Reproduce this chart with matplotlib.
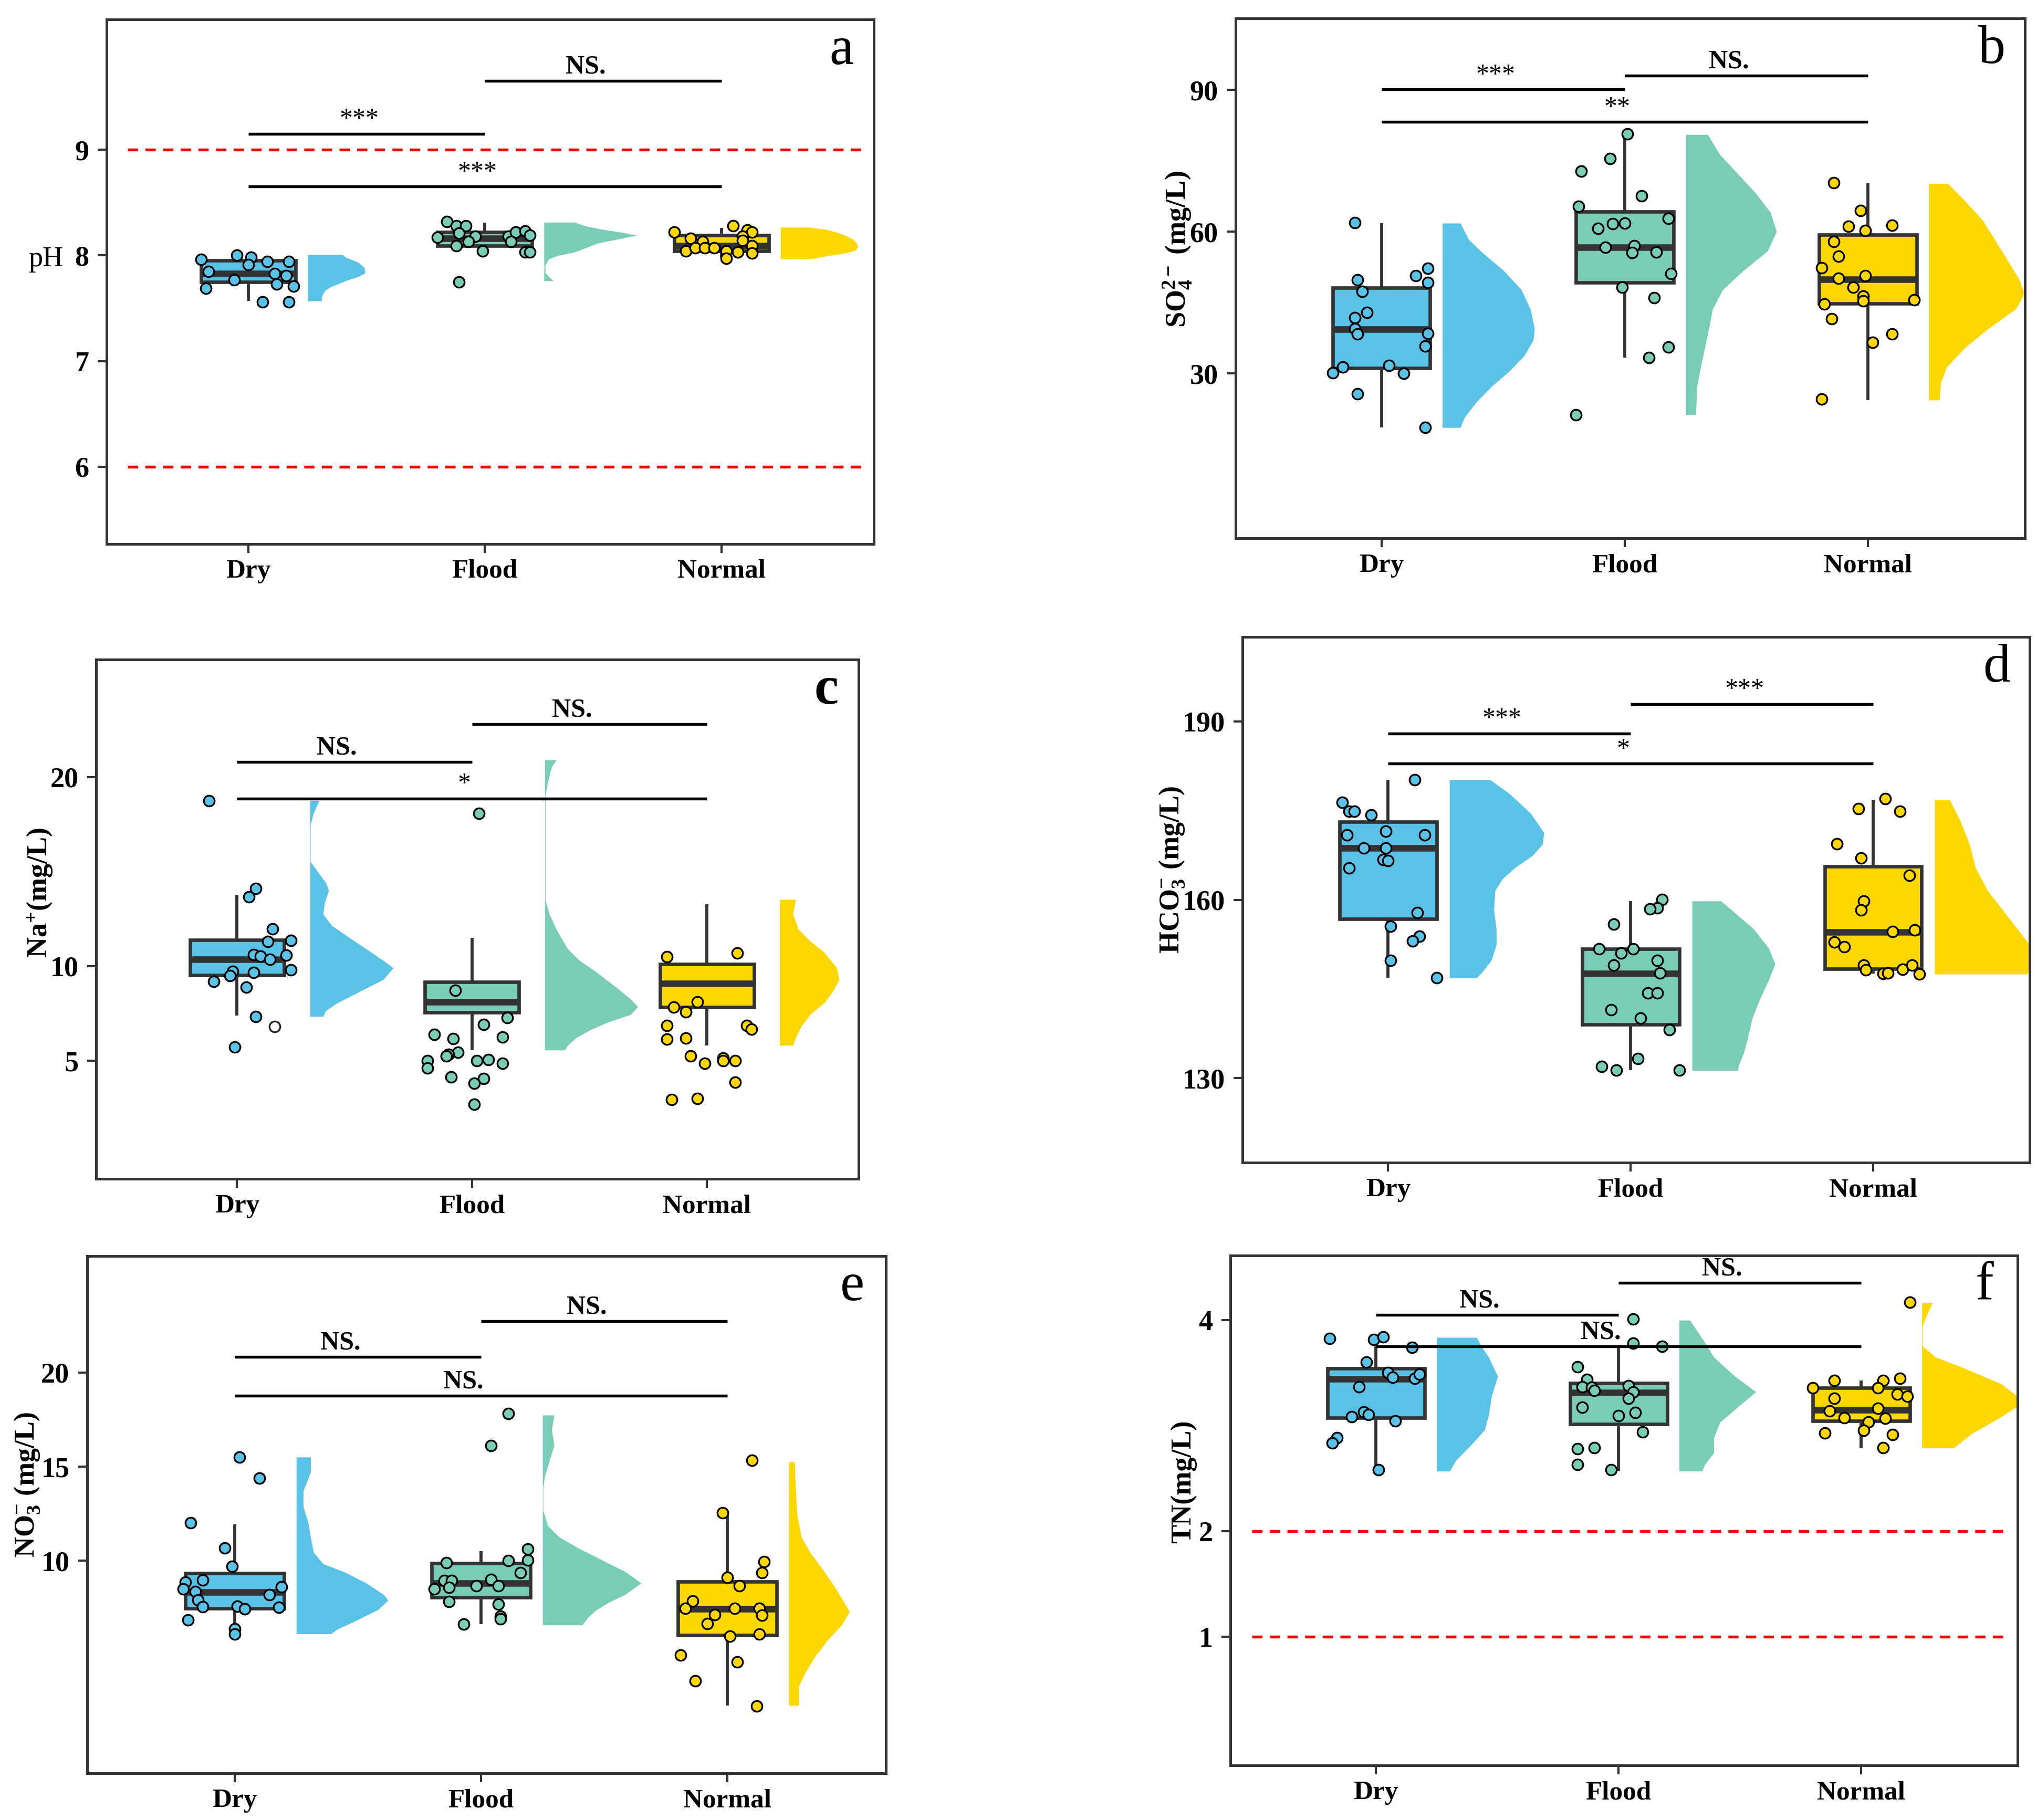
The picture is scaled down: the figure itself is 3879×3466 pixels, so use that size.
import numpy as np
import matplotlib
matplotlib.use("Agg")
import matplotlib.pyplot as plt
from matplotlib.patches import Rectangle

plt.rcParams['font.family'] = ['Liberation Serif', 'DejaVu Serif']
plt.rcParams['mathtext.fontset'] = 'custom'
plt.rcParams['mathtext.rm'] = 'Liberation Serif:bold'
plt.rcParams['mathtext.bf'] = 'Liberation Serif:bold'
plt.rcParams['mathtext.it'] = 'Liberation Serif:bold:italic'
plt.rcParams['mathtext.default'] = 'rm'

categories = ['Dry', 'Flood', 'Normal']
colors = ['#5BC2E7', '#79CDB6', '#FFD700']

# ---------------- panel a : pH ----------------
ph_dry = [7.96, 8.00, 7.98, 7.91, 7.94, 7.94, 7.85, 7.69, 7.77, 7.83, 7.73, 7.81, 7.71, 7.56, 7.56]
ph_dry_jit = [-0.20, -0.05, 0.01, 0.00, 0.08, 0.17, -0.17, -0.18, -0.06, 0.11, 0.12, 0.16, 0.19, 0.06, 0.17]
ph_flood = [8.32, 8.28, 8.28, 8.21, 8.17, 8.18, 8.13, 8.09, 8.04, 8.18, 8.22, 8.23, 8.19, 8.13, 8.03, 8.03, 7.75]
ph_flood_jit = [-0.16, -0.12, -0.08, -0.11, -0.20, -0.04, -0.07, -0.12, -0.01, 0.10, 0.13, 0.17, 0.19, 0.11, 0.17, 0.19, -0.11]
ph_normal = [8.22, 8.16, 8.13, 8.04, 8.07, 8.07, 8.07, 8.04, 7.97, 8.28, 8.24, 8.22, 8.18, 8.14, 8.09, 8.02, 8.03]
ph_normal_jit = [-0.20, -0.13, -0.08, -0.15, -0.11, -0.07, -0.03, 0.02, 0.02, 0.05, 0.11, 0.13, 0.09, 0.09, 0.13, 0.13, 0.07]
ph_box = [[7.57, 7.75, 7.83, 7.95, 7.95], [8.08, 8.09, 8.16, 8.22, 8.31], [7.98, 8.04, 8.09, 8.19, 8.26]]
ph_dry_vy = [8.007, 7.983, 7.933, 7.883, 7.834, 7.80, 7.767, 7.734, 7.70, 7.668, 7.618, 7.569]
ph_dry_vw = [0.148, 0.16, 0.216, 0.24, 0.244, 0.216, 0.17, 0.133, 0.096, 0.074, 0.061, 0.059]
ph_flood_vy = [8.314, 8.281, 8.247, 8.215, 8.19, 8.165, 8.14, 8.115, 8.082, 8.032, 7.999, 7.966, 7.90, 7.834, 7.80, 7.759]
ph_flood_vw = [0.129, 0.170, 0.244, 0.336, 0.392, 0.336, 0.281, 0.226, 0.189, 0.13, 0.06, 0.02, 0.004, 0.006, 0.02, 0.04]
ph_normal_vy = [8.267, 8.247, 8.215, 8.181, 8.148, 8.115, 8.082, 8.049, 8.024, 7.999, 7.969]
ph_normal_vw = [0.115, 0.189, 0.244, 0.281, 0.309, 0.322, 0.327, 0.318, 0.281, 0.207, 0.133]
ph_sig = [(1, 2, 9.15, '***'), (2, 3, 9.652, 'NS.'), (1, 3, 8.652, '***')]
ph_ref_lines = [9, 6]

# ---------------- panel b : SO4 ----------------
so4_dry = [61.96, 49.86, 47.40, 42.98, 41.83, 39.46, 38.39, 52.23, 50.67, 49.28, 38.47, 35.77, 31.68, 31.43, 30.20, 30.04, 25.7, 18.58]
so4_dry_jit = [-0.11, -0.10, -0.08, -0.06, -0.11, -0.11, -0.10, 0.19, 0.14, 0.19, 0.19, 0.18, 0.03, -0.16, -0.20, 0.09, -0.10, 0.18]
so4_flood = [80.7, 75.47, 72.77, 67.53, 65.40, 62.78, 60.65, 61.64, 61.80, 56.73, 57.05, 55.58, 55.74, 51.16, 48.22, 46.09, 35.61, 33.40, 21.29]
so4_flood_jit = [0.01, -0.06, -0.18, 0.07, -0.19, 0.18, -0.11, -0.05, 0.00, -0.08, 0.04, 0.03, 0.13, 0.19, -0.01, 0.12, 0.18, 0.10, -0.20]
so4_normal = [70.39, 64.5, 61.15, 60.25, 61.39, 57.95, 54.84, 52.31, 50.10, 50.67, 48.22, 46.33, 45.35, 44.70, 45.60, 41.59, 38.39, 36.60, 24.57]
so4_normal_jit = [-0.14, -0.03, -0.08, -0.01, 0.10, -0.14, -0.12, -0.19, -0.12, -0.01, -0.06, -0.02, -0.02, -0.18, 0.19, -0.15, 0.10, 0.02, -0.19]
so4_box = [[18.6, 31.2, 39.4, 48.2, 61.8], [33.4, 49.3, 56.7, 64.2, 80.7], [24.4, 44.8, 49.9, 59.4, 70.2]]
so4_dry_vy = [61.80, 58.36, 55.91, 51.82, 47.73, 43.63, 39.54, 37.09, 33.81, 30.54, 27.27, 24.0, 20.72, 18.59]
so4_dry_vw = [0.074, 0.108, 0.157, 0.251, 0.325, 0.362, 0.379, 0.374, 0.337, 0.276, 0.202, 0.140, 0.091, 0.074]
so4_flood_vy = [80.54, 76.37, 72.27, 68.18, 64.09, 60.0, 55.91, 51.82, 47.73, 43.63, 39.54, 35.45, 31.36, 27.27, 21.29]
so4_flood_vw = [0.091, 0.140, 0.214, 0.288, 0.349, 0.374, 0.337, 0.239, 0.153, 0.111, 0.096, 0.079, 0.062, 0.047, 0.042]
so4_normal_vy = [70.15, 66.55, 62.45, 58.36, 54.27, 50.18, 46.91, 43.63, 39.54, 35.45, 31.36, 28.09, 24.41]
so4_normal_vw = [0.079, 0.148, 0.221, 0.271, 0.320, 0.369, 0.394, 0.357, 0.246, 0.148, 0.074, 0.049, 0.044]
so4_sig = [(1, 2, 90.1, '***'), (2, 3, 92.95, 'NS.'), (1, 3, 83.2, '**')]

# ---------------- panel c : Na+ ----------------
na_dry = [18.75, 14.09, 13.66, 11.98, 11.31, 11.35, 10.61, 10.53, 10.35, 10.59, 9.73, 9.65, 9.80, 9.18, 9.51, 8.88, 7.34, 5.73]
na_dry_jit = [-0.12, 0.08, 0.05, 0.15, 0.13, 0.23, 0.07, 0.10, 0.14, 0.21, -0.02, 0.07, 0.23, -0.10, -0.03, 0.04, 0.08, -0.01]
na_dry_open = [6.81]
na_dry_open_jit = [0.16]
na_flood = [18.08, 8.71, 7.28, 6.91, 6.38, 6.16, 6.26, 5.44, 5.34, 5.26, 4.99, 5.01, 5.07, 4.87, 4.62, 4.13, 4.07, 3.82, 2.70]
na_flood_jit = [0.03, -0.07, 0.15, 0.05, -0.16, -0.08, 0.13, -0.06, -0.10, -0.11, -0.19, 0.02, 0.07, 0.13, -0.19, -0.09, 0.05, 0.01, 0.01]
na_normal = [10.49, 10.70, 8.12, 7.83, 7.59, 6.85, 6.87, 6.67, 6.13, 6.20, 5.26, 4.87, 5.13, 4.99, 4.99, 3.87, 2.94, 3.01]
na_normal_jit = [-0.17, 0.13, -0.04, -0.14, -0.09, -0.17, 0.17, 0.19, -0.17, -0.09, -0.07, -0.01, 0.07, 0.07, 0.12, 0.12, -0.15, -0.04]
na_box = [[7.40, 9.53, 10.37, 11.37, 13.74], [5.56, 7.55, 8.10, 9.16, 11.49], [5.81, 7.83, 9.08, 10.12, 13.27]]
na_dry_vy = [18.75, 18.08, 17.46, 15.52, 15.01, 14.40, 13.99, 13.37, 12.76, 12.15, 11.53, 10.92, 10.31, 9.90, 9.28, 8.67, 8.06, 7.65, 7.34]
na_dry_vw = [0.039, 0.015, 0.002, 0.002, 0.032, 0.068, 0.080, 0.063, 0.056, 0.092, 0.165, 0.238, 0.311, 0.355, 0.311, 0.214, 0.117, 0.068, 0.056]
na_flood_vy = [20.90, 20.53, 19.71, 19.0, 13.48, 12.76, 11.94, 10.92, 10.31, 9.69, 8.88, 8.26, 7.85, 7.44, 7.03, 6.63, 6.22, 5.81, 5.56]
na_flood_vw = [0.049, 0.029, 0.012, 0.002, 0.002, 0.019, 0.049, 0.097, 0.146, 0.219, 0.304, 0.365, 0.396, 0.365, 0.267, 0.194, 0.134, 0.097, 0.085]
na_normal_vy = [13.52, 12.76, 11.94, 11.33, 10.72, 9.90, 9.28, 8.67, 8.06, 7.44, 6.83, 6.22, 5.81]
na_normal_vw = [0.068, 0.056, 0.080, 0.129, 0.190, 0.243, 0.253, 0.226, 0.190, 0.129, 0.092, 0.068, 0.056]
na_sig = [(1, 2, 20.8, 'NS.'), (2, 3, 22.8, 'NS.'), (1, 3, 18.85, '*')]

# ---------------- panel d : HCO3- ----------------
hco3_dry = [180.23, 176.40, 174.90, 174.90, 174.25, 171.52, 170.93, 170.93, 168.72, 168.72, 166.77, 166.57, 165.34, 157.85, 155.58, 153.88, 153.04, 149.85, 146.86]
hco3_dry_jit = [0.11, -0.19, -0.16, -0.14, -0.07, -0.01, -0.17, 0.15, -0.10, -0.01, -0.02, 0.00, -0.16, 0.12, 0.01, 0.13, 0.10, 0.01, 0.20]
hco3_flood = [160.07, 158.63, 158.44, 155.90, 151.74, 151.74, 151.02, 149.0, 149.85, 147.70, 144.32, 144.32, 141.52, 140.09, 138.14, 133.26, 131.96, 131.31, 131.31]
hco3_flood_jit = [0.13, 0.11, 0.08, -0.07, -0.13, 0.01, -0.04, -0.07, 0.11, 0.12, 0.07, 0.11, -0.08, 0.04, 0.16, 0.03, -0.12, -0.06, 0.20]
hco3_normal = [177.05, 175.35, 174.90, 169.37, 167.03, 164.10, 159.80, 158.31, 154.66, 154.93, 152.91, 152.13, 149.0, 148.22, 148.35, 149.0, 147.57, 147.70, 147.51]
hco3_normal_jit = [0.05, -0.06, 0.11, -0.15, -0.05, 0.15, -0.04, -0.05, 0.08, 0.17, -0.16, -0.12, -0.04, -0.03, 0.12, 0.16, 0.04, 0.06, 0.19]
hco3_box = [[146.86, 156.81, 168.72, 173.08, 180.17], [131.31, 139.05, 147.64, 151.74, 159.80], [147.57, 148.42, 154.60, 165.60, 176.79]]
hco3_dry_vy = [180.17, 177.83, 174.57, 171.32, 169.37, 167.42, 165.47, 163.51, 161.56, 158.31, 155.06, 152.45, 149.85, 147.90, 146.86]
hco3_dry_vw = [0.168, 0.248, 0.334, 0.389, 0.384, 0.342, 0.272, 0.218, 0.188, 0.183, 0.193, 0.193, 0.173, 0.136, 0.111]
hco3_flood_vy = [159.80, 157.66, 155.06, 151.80, 149.20, 146.60, 143.34, 140.09, 136.84, 134.24, 132.28, 131.31]
hco3_flood_vw = [0.119, 0.181, 0.255, 0.317, 0.342, 0.317, 0.280, 0.248, 0.230, 0.213, 0.193, 0.188]
hco3_normal_vy = [176.79, 173.27, 169.37, 165.47, 161.56, 158.31, 155.06, 152.45, 150.50, 148.55, 147.51]
hco3_normal_vw = [0.062, 0.106, 0.144, 0.168, 0.218, 0.280, 0.342, 0.391, 0.42, 0.40, 0.38]
hco3_sig = [(1, 2, 188.0, '***'), (2, 3, 192.9, '***'), (1, 3, 182.9, '*')]

# ---------------- panel e : NO3- ----------------
no3_dry = [15.51, 14.39, 12.03, 10.69, 9.70, 8.98, 8.86, 8.62, 8.52, 8.37, 8.19, 7.91, 7.56, 7.58, 7.46, 7.54, 6.87, 6.38, 6.12]
no3_dry_jit = [0.02, 0.10, -0.18, -0.04, -0.01, -0.13, -0.20, 0.19, -0.21, -0.16, 0.14, -0.15, -0.13, 0.01, 0.04, 0.18, -0.19, 0.00, 0.00]
no3_flood = [17.83, 16.12, 10.63, 10.02, 10.04, 9.90, 9.37, 9.02, 8.94, 8.96, 8.66, 8.66, 8.52, 8.58, 7.85, 7.70, 7.07, 6.93, 6.65]
no3_flood_jit = [0.11, 0.04, 0.19, 0.11, 0.19, -0.14, 0.16, 0.04, -0.15, -0.12, -0.02, 0.07, -0.19, -0.13, -0.13, 0.07, 0.08, 0.08, -0.07]
no3_normal = [15.33, 12.56, 9.96, 9.37, 9.11, 8.66, 7.87, 7.48, 7.48, 7.48, 7.13, 7.11, 6.67, 6.12, 6.00, 5.00, 4.63, 3.62, 2.30]
no3_normal_jit = [0.10, -0.02, 0.15, 0.14, 0.00, 0.05, -0.14, -0.17, 0.03, 0.13, -0.05, 0.14, -0.08, 0.13, 0.01, -0.19, 0.04, -0.13, 0.12]
no3_box = [[6.38, 7.48, 8.35, 9.33, 11.93], [6.63, 8.05, 8.82, 9.88, 10.51], [2.32, 6.04, 7.44, 8.90, 12.44]]
no3_dry_vy = [15.51, 14.72, 13.70, 12.89, 12.07, 11.26, 10.45, 9.84, 9.43, 8.82, 8.21, 7.91, 7.40, 6.79, 6.38, 6.12]
no3_dry_vw = [0.058, 0.058, 0.028, 0.028, 0.047, 0.058, 0.070, 0.109, 0.191, 0.284, 0.354, 0.373, 0.331, 0.237, 0.168, 0.140]
no3_flood_vy = [17.74, 16.95, 16.14, 15.33, 14.51, 13.90, 12.68, 11.87, 11.26, 10.65, 10.04, 9.43, 8.82, 8.21, 7.80, 7.40, 6.99, 6.59]
no3_flood_vw = [0.047, 0.037, 0.047, 0.028, 0.009, 0.002, 0.002, 0.021, 0.068, 0.149, 0.242, 0.335, 0.400, 0.335, 0.270, 0.219, 0.184, 0.161]
no3_normal_vy = [15.26, 13.70, 12.48, 11.26, 10.45, 9.63, 8.62, 7.60, 7.30, 6.59, 5.77, 4.96, 4.15, 3.33, 2.32]
no3_normal_vw = [0.023, 0.028, 0.033, 0.051, 0.086, 0.133, 0.186, 0.233, 0.247, 0.214, 0.156, 0.109, 0.070, 0.040, 0.040]
no3_sig = [(1, 2, 20.83, 'NS.'), (2, 3, 22.74, 'NS.'), (1, 3, 18.78, 'NS.')]

# ---------------- panel f : TN ----------------
tn_dry = [3.826, 3.819, 3.844, 3.743, 3.605, 3.504, 3.460, 3.446, 3.486, 3.370, 3.130, 3.105, 3.083, 3.043, 2.884, 2.837, 2.580]
tn_dry_jit = [-0.19, -0.01, 0.03, 0.15, -0.04, 0.05, 0.07, 0.16, 0.18, -0.07, -0.05, -0.03, -0.10, 0.08, -0.16, -0.18, 0.01]
tn_flood = [4.011, 3.783, 3.750, 3.558, 3.438, 3.370, 3.366, 3.333, 3.377, 3.319, 3.257, 3.174, 3.127, 3.094, 2.942, 2.779, 2.793, 2.630, 2.583]
tn_flood_jit = [0.06, 0.06, 0.18, -0.17, -0.13, -0.15, -0.11, -0.10, 0.04, 0.06, 0.04, -0.15, 0.07, 0.00, 0.10, -0.17, -0.10, -0.17, -0.03]
tn_normal = [4.170, 3.431, 3.431, 3.449, 3.359, 3.359, 3.301, 3.279, 3.257, 3.141, 3.163, 3.076, 3.069, 3.033, 2.957, 2.931, 2.917, 2.793]
tn_normal_jit = [0.20, -0.11, 0.09, 0.16, -0.20, 0.07, 0.15, 0.19, -0.11, -0.13, 0.07, -0.07, 0.10, 0.03, 0.01, -0.15, 0.13, 0.09]
tn_box = [[2.569, 3.076, 3.442, 3.543, 3.75], [2.572, 3.014, 3.312, 3.406, 3.75], [2.793, 3.047, 3.152, 3.359, 3.431]]
tn_dry_vy = [3.837, 3.757, 3.649, 3.467, 3.286, 3.105, 2.960, 2.815, 2.670, 2.569]
tn_dry_vw = [0.165, 0.183, 0.215, 0.252, 0.227, 0.215, 0.198, 0.141, 0.079, 0.054]
tn_flood_vy = [4.0, 3.830, 3.649, 3.467, 3.322, 3.178, 3.033, 2.888, 2.743, 2.634, 2.569]
tn_flood_vw = [0.044, 0.094, 0.143, 0.230, 0.316, 0.242, 0.168, 0.143, 0.143, 0.106, 0.094]
tn_normal_vy = [4.167, 4.047, 3.938, 3.757, 3.649, 3.540, 3.395, 3.286, 3.178, 3.069, 2.924, 2.790]
tn_normal_vw = [0.044, 0.020, 0.002, 0.002, 0.057, 0.180, 0.328, 0.390, 0.390, 0.316, 0.205, 0.131]
tn_sig = [(1, 2, 4.05, 'NS.'), (2, 3, 4.355, 'NS.'), (1, 3, 3.75, 'NS.')]
tn_ref_lines = [2, 1]

# ---------------- drawing ----------------
W, H = 3879, 3466
DPI = 300
fig = plt.figure(figsize=(W / DPI, H / DPI), dpi=DPI)

EDGE = '#333333'


def draw_panel(rect, pts, jits, boxes, vys, vws, voff, ylim, yticks, sig, letter,
               ylabel, label_xy, ylabel_bold=True, ylabel_rot=90, ref_lines=None,
               letter_bold=False, extra_open=None):
    ax = fig.add_axes(rect)
    ax.set_xlim(0.40, 3.645)
    ax.set_ylim(*ylim)
    for i in range(3):
        x = i + 1
        vy = np.array(vys[i])
        vw = np.array(vws[i])
        ax.fill_betweenx(vy, x + voff, x + voff + vw, color=colors[i], lw=0, zorder=1)
        lo, q1, med, q3, hi = boxes[i]
        ax.plot([x, x], [lo, q1], color=EDGE, lw=1.4, zorder=2, solid_capstyle='butt')
        ax.plot([x, x], [q3, hi], color=EDGE, lw=1.4, zorder=2, solid_capstyle='butt')
        ax.add_patch(Rectangle((x - 0.2, q1), 0.4, q3 - q1, facecolor=colors[i],
                               edgecolor=EDGE, lw=1.6, zorder=3))
        ax.plot([x - 0.2, x + 0.2], [med, med], color=EDGE, lw=3.0, zorder=4,
                solid_capstyle='butt')
        ax.scatter(x + np.array(jits[i]), pts[i], s=24, c=colors[i], edgecolors='black',
                   linewidths=0.8, zorder=5)
    if extra_open is not None:
        for gi, ys, js in extra_open:
            ax.scatter(gi + 1 + np.array(js), ys, s=24, c='white', edgecolors='#222222',
                       linewidths=0.8, zorder=5)
    if ref_lines:
        for r in ref_lines:
            ax.plot([0.49, 3.60], [r, r], color='#FF0000', lw=1.3,
                    linestyle=(0, (3.6, 2.6)), zorder=0.5)
    for (i, j, y, lab) in sig:
        ax.plot([i, j], [y, y], color='black', lw=1.3, zorder=6, solid_capstyle='butt')
        if lab == 'NS.':
            bold, dx = 'bold', -8.0
        else:
            bold, dx = 'normal', -3.5
        ax.annotate(lab, xy=((i + j) / 2, y), xytext=(dx, 3.5), textcoords='offset points',
                    ha='center', va='baseline', fontsize=12, fontweight=bold, zorder=7)
    ax.set_xticks([1, 2, 3])
    ax.set_xticklabels(categories, fontsize=12.3, fontweight='bold')
    ax.set_yticks(yticks)
    ax.set_yticklabels([str(t) for t in yticks], fontsize=13, fontweight='bold')
    ax.tick_params(axis='both', direction='out', length=4, width=1.0, color=EDGE,
                   pad=4, labelcolor='black')
    ax.tick_params(axis='x', pad=3)
    for sp in ax.spines.values():
        sp.set_linewidth(1.2)
        sp.set_color(EDGE)
    ax.set_ylabel(ylabel, fontsize=13, fontweight='bold' if ylabel_bold else 'normal',
                  rotation=ylabel_rot, va='center', ha='center')
    ax.yaxis.set_label_coords(*label_xy)
    ax.text(0.958, 0.94, letter, transform=ax.transAxes, ha='center', va='center',
            fontsize=25, fontweight='bold' if letter_bold else 'normal', zorder=8)
    return ax


draw_panel([0.0523, 0.7012, 0.3767, 0.2882],
           [ph_dry, ph_flood, ph_normal], [ph_dry_jit, ph_flood_jit, ph_normal_jit], ph_box,
           [ph_dry_vy, ph_flood_vy, ph_normal_vy], [ph_dry_vw, ph_flood_vw, ph_normal_vw], 0.25,
           (5.271, 10.234), [6, 7, 8, 9], ph_sig, 'a', 'pH', (-0.079, 0.542),
           ylabel_bold=False, ylabel_rot=0, ref_lines=ph_ref_lines)

draw_panel([0.6066, 0.7043, 0.3874, 0.2855],
           [so4_dry, so4_flood, so4_normal], [so4_dry_jit, so4_flood_jit, so4_normal_jit], so4_box,
           [so4_dry_vy, so4_flood_vy, so4_normal_vy], [so4_dry_vw, so4_flood_vw, so4_normal_vw], 0.25,
           (-4.8, 105.06), [30, 60, 90], so4_sig, 'b', r'SO$_4^{2-}$ (mg/L)', (-0.0735, 0.556))

draw_panel([0.0472, 0.3522, 0.3742, 0.2854],
           [na_dry, na_flood, na_normal], [na_dry_jit, na_flood_jit, na_normal_jit], na_box,
           [na_dry_vy, na_flood_vy, na_normal_vy], [na_dry_vw, na_flood_vw, na_normal_vw], 0.31,
           (-1.25, 26.2), [5, 10, 20], na_sig, 'c', r'Na$^{+}$(mg/L)', (-0.0737, 0.551),
           letter_bold=True, extra_open=[(0, na_dry_open, na_dry_open_jit)])

draw_panel([0.610, 0.3612, 0.3864, 0.2888],
           [hco3_dry, hco3_flood, hco3_normal], [hco3_dry_jit, hco3_flood_jit, hco3_normal_jit], hco3_box,
           [hco3_dry_vy, hco3_flood_vy, hco3_normal_vy], [hco3_dry_vw, hco3_flood_vw, hco3_normal_vw], 0.253,
           (115.8, 204.2), [130, 160, 190], hco3_sig, 'd', r'HCO$_3^{-}$ (mg/L)', (-0.09, 0.557))

draw_panel([0.0427, 0.0257, 0.3923, 0.2843],
           [no3_dry, no3_flood, no3_normal], [no3_dry_jit, no3_flood_jit, no3_normal_jit], no3_box,
           [no3_dry_vy, no3_flood_vy, no3_normal_vy], [no3_dry_vw, no3_flood_vw, no3_normal_vw], 0.25,
           (-1.28, 26.2), [10, 15, 20], no3_sig, 'e', r'NO$_3^{-}$ (mg/L)', (-0.075, 0.558))

draw_panel([0.604, 0.030, 0.3865, 0.2803],
           [tn_dry, tn_flood, tn_normal], [tn_dry_jit, tn_flood_jit, tn_normal_jit], tn_box,
           [tn_dry_vy, tn_flood_vy, tn_normal_vy], [tn_dry_vw, tn_flood_vw, tn_normal_vw], 0.25,
           (-0.221, 4.616), [1, 2, 4], tn_sig, 'f', 'TN(mg/L)', (-0.059, 0.556),
           ref_lines=tn_ref_lines)

fig.savefig('out.png', dpi=DPI)
